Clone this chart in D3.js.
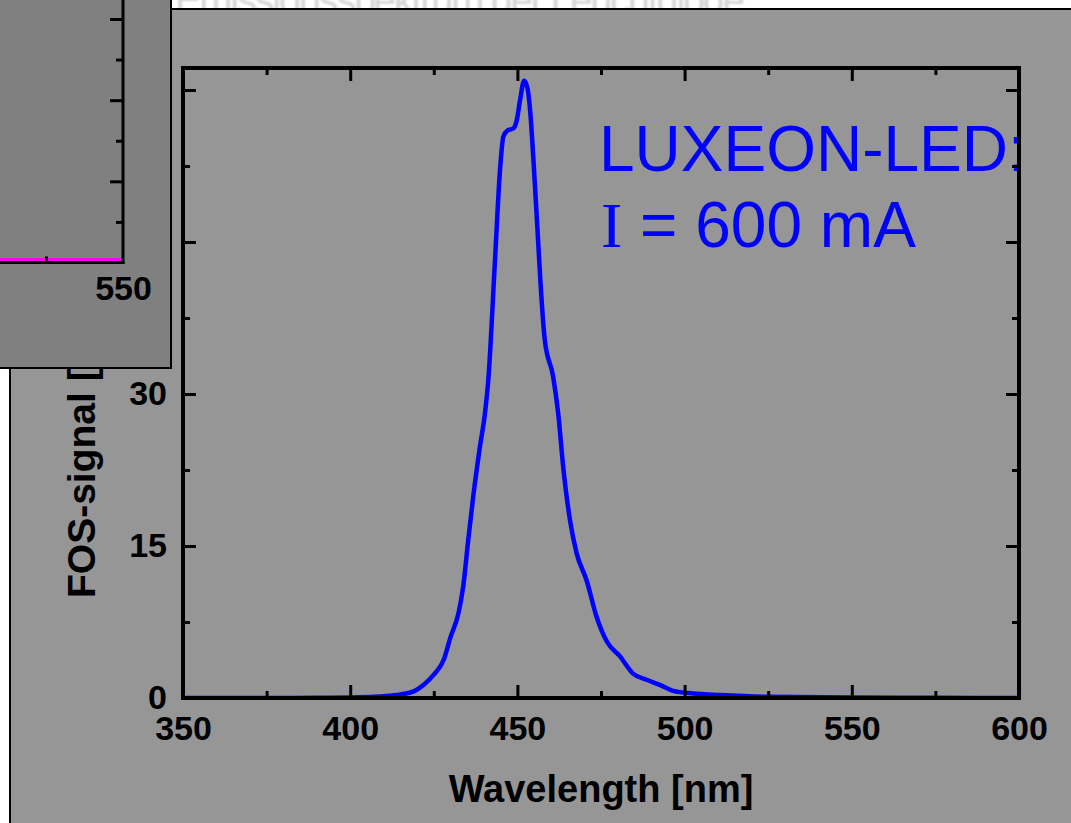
<!DOCTYPE html>
<html>
<head>
<meta charset="utf-8">
<script src="https://cdn.jsdelivr.net/npm/d3@7"></script>
<style>
  html, body { margin: 0; padding: 0; background: #fff; }
  svg { display: block; }
</style>
</head>
<body>
<div id="chart-area"></div>
<script>
// spectrum of the LED
let wavelength = [350, 360, 370, 380, 390, 400, 405, 410, 415, 419, 422, 425, 428, 430,
  432.4, 433.8, 435.3, 436.8, 438.8, 440.3, 441.3, 443.3, 444.8, 445.8, 447, 448.8,
  449.8, 450.8, 452, 453, 453.8, 454.8, 456.3, 457, 458.2, 460.7, 462.2, 463.7, 465.7,
  467.7, 470.7, 473.7, 476.7, 480.7, 484.6, 488.6, 492.6, 496.6, 502.6, 510.5, 525,
  550, 575, 600];
let signal = [0, 0, 0, 0, 0.02, 0.05, 0.1, 0.18, 0.35, 0.65, 1.3, 2.3, 3.8, 6.0,
  8.4, 11.0, 15.6, 19.9, 24.8, 28.1, 31.4, 43.2, 52.1, 55.4, 56.0, 56.2,
  57.0, 59.0, 60.9, 60.2, 58.0, 53.1, 44.5, 40.5, 35.3, 31.7, 28.1, 22.8, 17.6,
  14.3, 11.6, 8.0, 5.6, 4.1, 2.4, 1.8, 1.3, 0.7, 0.45, 0.3, 0.12,
  0.05, 0.02, 0];

let xMajor = [350, 400, 450, 500, 550, 600];
let xMinor = [375, 425, 475, 525, 575];
let yMajor = [0, 15, 30, 45, 60];
let yMinor = [7.5, 22.5, 37.5, 52.5];

// the slide behind: a second plot peeking in at top left
let insetWavelength = [500, 525, 550];
let insetSignal = [0.075, 0.075, 0.075];
let insetXTicks = [550];
let insetXMinor = [525];
let insetYMajor = [2, 4, 6];
let insetYMinor = [1, 3, 5];

let W = 1071, H = 823;
let fontSans = "'Liberation Sans', Arial, Helvetica, sans-serif";
let fontSerif = "'Liberation Serif', 'Times New Roman', serif";

let svg = d3.select("#chart-area")
  .append("svg")
  .attr("width", W)
  .attr("height", H);

svg.append("rect").attr("width", W).attr("height", H).attr("fill", "#fff");

let defs = svg.append("defs");
defs.append("filter").attr("id", "soft")
  .append("feGaussianBlur").attr("stdDeviation", 1.2);

// faint slide title behind the panel
svg.append("text")
  .attr("x", 175).attr("y", 14)
  .attr("font-family", fontSans)
  .attr("font-size", 40)
  .attr("fill", "#d4d4d4")
  .attr("filter", "url(#soft)")
  .attr("textLength", 570)
  .text("Emissionsspektrum der Leuchtdiode");

// main grey panel
svg.append("rect")
  .attr("x", 10).attr("y", 9)
  .attr("width", 1100).attr("height", 900)
  .attr("fill", "#969696")
  .attr("stroke", "#000")
  .attr("stroke-width", 2);

// plot area
let pLeft = 183, pRight = 1019, pTop = 68, pBottom = 698;

let x = d3.scaleLinear().domain([350, 600]).range([pLeft, pRight]);
let y = d3.scaleLinear().domain([0, 62.17]).range([pBottom, pTop]);

defs.append("clipPath").attr("id", "plotclip")
  .append("rect")
  .attr("x", pLeft).attr("y", pTop)
  .attr("width", pRight - pLeft).attr("height", pBottom - pTop);

let plot = svg.append("g").attr("clip-path", "url(#plotclip)");

let line = d3.line()
  .x(function(d, i) { return x(wavelength[i]); })
  .y(function(d) { return y(d); })
  .curve(d3.curveMonotoneX);

plot.append("path")
  .datum(signal)
  .attr("d", line)
  .attr("fill", "none")
  .attr("stroke", "#0000ff")
  .attr("stroke-width", 4.5)
  .attr("stroke-linejoin", "round");

// annotation
plot.append("text")
  .attr("x", 599).attr("y", 171)
  .attr("font-family", fontSans)
  .attr("font-size", 64)
  .attr("fill", "#0000ff")
  .text("LUXEON-LED:");

let t2 = plot.append("text")
  .attr("x", 601).attr("y", 247)
  .attr("font-size", 64)
  .attr("fill", "#0000ff");
t2.append("tspan").attr("font-family", fontSerif).text("I");
t2.append("tspan").attr("font-family", fontSans).text(" = 600 mA");

// axes, ticks pointing inward
function styleAxis(g) {
  g.select(".domain").remove();
  g.selectAll(".tick line").attr("stroke", "#000").attr("stroke-width", 3);
  g.selectAll(".tick text")
    .attr("fill", "#000")
    .attr("font-family", fontSans)
    .attr("font-weight", "bold")
    .attr("font-size", 34);
}

svg.append("g").attr("transform", "translate(0," + pBottom + ")")
  .call(d3.axisBottom(x).tickValues(xMajor).tickSize(-13).tickPadding(18).tickFormat(d3.format("d")))
  .call(styleAxis);
svg.append("g").attr("transform", "translate(0," + pBottom + ")")
  .call(d3.axisBottom(x).tickValues(xMinor).tickSize(-7).tickFormat(""))
  .call(styleAxis);
svg.append("g").attr("transform", "translate(0," + pTop + ")")
  .call(d3.axisTop(x).tickValues(xMajor).tickSize(-13).tickFormat(""))
  .call(styleAxis);
svg.append("g").attr("transform", "translate(0," + pTop + ")")
  .call(d3.axisTop(x).tickValues(xMinor).tickSize(-7).tickFormat(""))
  .call(styleAxis);

svg.append("g").attr("transform", "translate(" + pLeft + ",0)")
  .call(d3.axisLeft(y).tickValues(yMajor).tickSize(-13).tickPadding(16).tickFormat(d3.format("d")))
  .call(styleAxis);
svg.append("g").attr("transform", "translate(" + pLeft + ",0)")
  .call(d3.axisLeft(y).tickValues(yMinor).tickSize(-7).tickFormat(""))
  .call(styleAxis);
svg.append("g").attr("transform", "translate(" + pRight + ",0)")
  .call(d3.axisRight(y).tickValues(yMajor).tickSize(-13).tickFormat(""))
  .call(styleAxis);
svg.append("g").attr("transform", "translate(" + pRight + ",0)")
  .call(d3.axisRight(y).tickValues(yMinor).tickSize(-7).tickFormat(""))
  .call(styleAxis);

// frame
svg.append("rect")
  .attr("x", pLeft).attr("y", pTop)
  .attr("width", pRight - pLeft).attr("height", pBottom - pTop)
  .attr("fill", "none")
  .attr("stroke", "#000")
  .attr("stroke-width", 4);

// axis titles
svg.append("text")
  .attr("x", (pLeft + pRight) / 2).attr("y", 802)
  .attr("text-anchor", "middle")
  .attr("font-family", fontSans)
  .attr("font-weight", "bold")
  .attr("font-size", 38)
  .text("Wavelength [nm]");

svg.append("text")
  .attr("transform", "translate(95,598) rotate(-90)")
  .attr("text-anchor", "start")
  .attr("font-family", fontSans)
  .attr("font-weight", "bold")
  .attr("font-size", 39)
  .text("FOS-signal [a.u.]");

// inset panel on top
svg.append("rect")
  .attr("x", -5).attr("y", -5)
  .attr("width", 176).attr("height", 373)
  .attr("fill", "#808080")
  .attr("stroke", "#000")
  .attr("stroke-width", 2);

let ix = d3.scaleLinear().domain([500, 550]).range([-31, 123]);
let iy = d3.scaleLinear().domain([0, 6]).range([262.5, 19]);

svg.append("path")
  .datum(insetSignal)
  .attr("d", d3.line()
    .x(function(d, i) { return ix(insetWavelength[i]); })
    .y(function(d) { return iy(d); }))
  .attr("fill", "none")
  .attr("stroke", "#ff00ff")
  .attr("stroke-width", 3);

svg.append("g").attr("transform", "translate(0,262.5)")
  .call(d3.axisBottom(ix).tickValues(insetXTicks).tickSize(0).tickPadding(13).tickFormat(d3.format("d")))
  .call(styleAxis);
svg.append("g").attr("transform", "translate(0,262.5)")
  .call(d3.axisBottom(ix).tickValues(insetXMinor).tickSize(-6).tickFormat(""))
  .call(styleAxis);
svg.append("g").attr("transform", "translate(123,0)")
  .call(d3.axisRight(iy).tickValues(insetYMajor).tickSize(-13).tickFormat(""))
  .call(styleAxis);
svg.append("g").attr("transform", "translate(123,0)")
  .call(d3.axisRight(iy).tickValues(insetYMinor).tickSize(-7).tickFormat(""))
  .call(styleAxis);

svg.append("line")
  .attr("x1", -5).attr("x2", 124.5)
  .attr("y1", 262.5).attr("y2", 262.5)
  .attr("stroke", "#000").attr("stroke-width", 3);
svg.append("line")
  .attr("x1", 123).attr("x2", 123)
  .attr("y1", -5).attr("y2", 264)
  .attr("stroke", "#000").attr("stroke-width", 3);
</script>
</body>
</html>
